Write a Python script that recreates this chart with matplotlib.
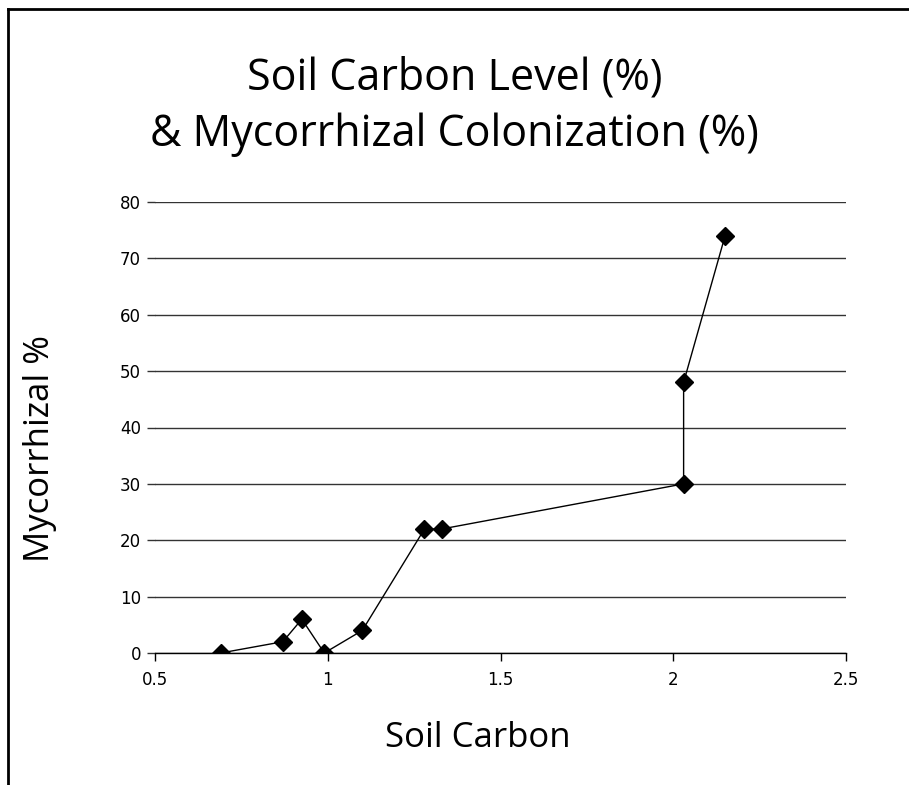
import matplotlib.pyplot as plt
from matplotlib.lines import Line2D

# Soil carbon (%) vs mycorrhizal colonization (%)
soil_carbon = [0.69, 0.87, 0.925, 0.99, 1.10, 1.28, 1.33, 2.03, 2.03, 2.15]
mycorrhizal = [0, 2, 6, 0, 4, 22, 22, 30, 48, 74]

x_ticks = [0.5, 1, 1.5, 2, 2.5]
x_tick_labels = ['0.5', '1', '1.5', '2', '2.5']
y_ticks = [0, 10, 20, 30, 40, 50, 60, 70, 80]

fig = plt.figure(figsize=(9.09, 7.85), dpi=100)
ax = fig.add_axes([155 / 909, 1 - 653 / 785, (846 - 155) / 909, (653 - 202) / 785])

ax.plot(soil_carbon, mycorrhizal, color='black', lw=1.0, marker='D',
        markersize=9, markerfacecolor='black', markeredgecolor='black', zorder=3)

ax.set_xlim(0.5, 2.5)
ax.set_ylim(0, 80)
ax.set_xticks(x_ticks)
ax.set_xticklabels(x_tick_labels)
ax.set_yticks(y_ticks)

# horizontal gridlines only, Excel style
ax.grid(axis='y', color='#333333', lw=1.0)
ax.grid(axis='x', visible=False)
for side in ['left', 'right', 'top']:
    ax.spines[side].set_visible(False)
ax.spines['bottom'].set_color('black')
ax.spines['bottom'].set_linewidth(1.0)

ax.tick_params(axis='x', direction='out', length=6, width=1, pad=7, labelsize=12)
ax.tick_params(axis='y', direction='out', length=6, width=1, pad=4, labelsize=12,
               color='#333333')

# axis titles placed in figure pixels
fig.text(478 / 909, 1 - 738 / 785, 'Soil Carbon', ha='center', va='center',
         fontsize=25, family='Open Sans')
fig.text(40 / 909, 1 - 448 / 785, 'Mycorrhizal %', ha='center', va='center',
         rotation=90, fontsize=25, family='Open Sans')

fig.text(0.5, 1 - 78 / 785, 'Soil Carbon Level (%)', ha='center', va='center',
         fontsize=31, family='Open Sans')
fig.text(0.5, 1 - 135 / 785, '& Mycorrhizal Colonization (%)', ha='center',
         va='center', fontsize=31, family='Open Sans')

# chart border (top and left visible)
fig.add_artist(Line2D([8 / 909, 8 / 909], [0, 1 - 9 / 785], transform=fig.transFigure,
                      color='black', lw=2))
fig.add_artist(Line2D([8 / 909, 1], [1 - 9 / 785, 1 - 9 / 785], transform=fig.transFigure,
                      color='black', lw=2))

fig.savefig('out.png', dpi=100)
